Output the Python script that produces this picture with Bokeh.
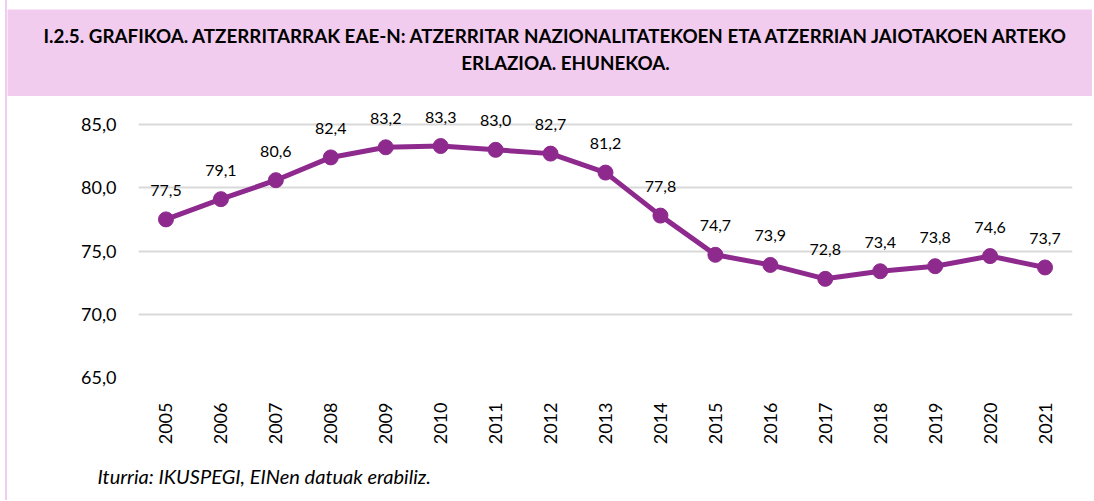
from bokeh.plotting import figure
from bokeh.layouts import column
from bokeh.models import ColumnDataSource, FixedTicker, CustomJSTickFormatter, Range1d, Spacer
from bokeh.core.properties import value
from bokeh.embed import file_html
from bokeh.resources import INLINE

years = [str(y) for y in range(2005, 2022)]
values = [77.5, 79.1, 80.6, 82.4, 83.2, 83.3, 83.0, 82.7, 81.2, 77.8,
          74.7, 73.9, 72.8, 73.4, 73.8, 74.6, 73.7]
y_ticks = [65, 70, 75, 80, 85]
title_lines = ["I.2.5. GRAFIKOA. ATZERRITARRAK EAE-N: ATZERRITAR NAZIONALITATEKOEN ETA ATZERRIAN JAIOTAKOEN ARTEKO",
               "ERLAZIOA. EHUNEKOA."]
source_text = "Iturria: IKUSPEGI, EINen datuak erabiliz."

PINK = "#F1CCEE"
PURPLE = "#8E2A8E"
FONT = "Lato"
X0 = 7            # page x where the layout content starts
W = 1085

# header band (coordinates in page pixels)
hdr = figure(width=W, height=87, output_backend="svg", toolbar_location=None,
             x_range=Range1d(X0, X0 + W), y_range=Range1d(96, 9),
             min_border=0, outline_line_color=None, frame_align=False,
             background_fill_color=PINK, border_fill_color=PINK)
hdr.axis.visible = False
hdr.grid.visible = False
hdr.text(x=[556, 565], y=[35, 62], text=title_lines,
         text_font=value(FONT), text_font_style="bold", text_font_size="18.8px",
         text_align="center", text_baseline="middle", text_color="#000000")

# main chart
p = figure(width=W, height=359, output_backend="svg", toolbar_location=None,
           x_range=years, y_range=Range1d(65, 86.9), frame_align=False,
           min_border_left=131, min_border_right=20, min_border_top=4, min_border_bottom=78,
           outline_line_color=None, background_fill_color="white", border_fill_color="white")

src = ColumnDataSource(dict(x=years, y=values, lab=[f"{v:.1f}".replace(".", ",") for v in values]))
p.line("x", "y", source=src, line_color=PURPLE, line_width=5, line_join="round")
p.scatter("x", "y", source=src, size=15, fill_color=PURPLE, line_color=PURPLE)
p.text("x", "y", text="lab", source=src, text_font=value(FONT), text_font_size="16px",
       text_align="center", text_baseline="middle", y_offset=-29, text_color="#000000")

p.yaxis.ticker = FixedTicker(ticks=y_ticks)
p.yaxis.formatter = CustomJSTickFormatter(code="return tick.toFixed(1).replace('.', ',');")
p.yaxis.axis_line_color = None
p.yaxis.major_tick_line_color = None
p.yaxis.minor_tick_line_color = None
p.yaxis.major_label_standoff = 16
p.yaxis.major_label_text_font = FONT
p.yaxis.major_label_text_font_size = "18px"
p.yaxis.major_label_text_color = "#000000"

p.xaxis.axis_line_color = None
p.xaxis.major_tick_line_color = None
p.xaxis.major_label_orientation = 3.14159265 / 2
p.xaxis.major_label_standoff = 19
p.xaxis.major_label_text_font = FONT
p.xaxis.major_label_text_font_size = "18px"
p.xaxis.major_label_text_color = "#000000"

p.xgrid.visible = False
p.ygrid.ticker = FixedTicker(ticks=y_ticks)
p.ygrid.grid_line_color = "#D9D9D9"
p.ygrid.grid_line_width = 2

# footer with the source note (coordinates in page pixels)
ftr = figure(width=W, height=45, output_backend="svg", toolbar_location=None,
             x_range=Range1d(X0, X0 + W), y_range=Range1d(500, 455),
             min_border=0, outline_line_color=None, frame_align=False,
             background_fill_color="white", border_fill_color="white")
ftr.axis.visible = False
ftr.grid.visible = False
ftr.text(x=[97], y=[475], text=[source_text], text_font=value(FONT), text_font_style="italic",
         text_font_size="20px", text_align="left", text_baseline="middle", text_color="#000000")

layout = column(Spacer(width=W, height=9), hdr, p, ftr, spacing=0,
                styles={"margin-left": "5px", "border-left": f"2px solid {PINK}"})
open("out.html", "w").write(file_html(layout, INLINE))
